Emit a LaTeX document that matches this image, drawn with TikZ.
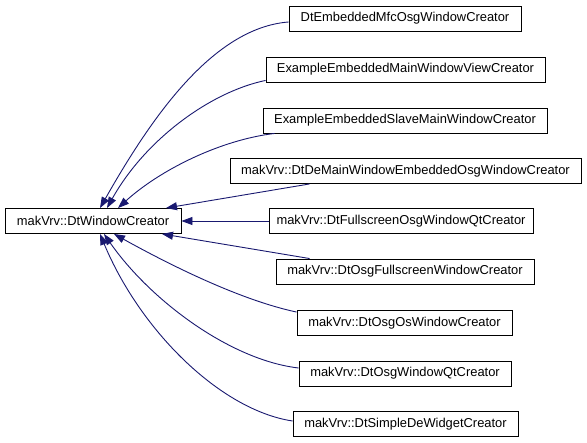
\documentclass[tikz,border=0pt]{standalone}
\usepackage{fontspec}
\setmainfont{Liberation Sans}
\usetikzlibrary{arrows.meta}
\definecolor{edgeblue}{HTML}{191970}
\begin{document}
\begin{tikzpicture}[x=1pt,y=-1pt,
  cls/.style={draw=black, line width=0.9pt, fill=white, minimum height=25pt, inner sep=0pt, font=\fontsize{12.9}{14}\selectfont},
  inh/.style={draw=edgeblue, line width=0.9pt, -{Triangle[length=11pt,width=8pt]}}]
\useasboundingbox (0,0) rectangle (587,443);
\node[cls, minimum width=176pt] (L) at (93,221) {makVrv::DtWindowCreator};
\node[cls, minimum width=232pt] (n1) at (405,18.5) {DtEmbeddedMfcOsgWindowCreator};
\node[cls, minimum width=279pt] (n2) at (405.5,69.5) {ExampleEmbeddedMainWindowViewCreator};
\node[cls, minimum width=284pt] (n3) at (405,120.5) {ExampleEmbeddedSlaveMainWindowCreator};
\node[cls, minimum width=351pt] (n4) at (405.5,171) {makVrv::DtDeMainWindowEmbeddedOsgWindowCreator};
\node[cls, minimum width=264pt] (n5) at (401,221) {makVrv::DtFullscreenOsgWindowQtCreator};
\node[cls, minimum width=258pt] (n6) at (405,271.5) {makVrv::DtOsgFullscreenWindowCreator};
\node[cls, minimum width=215pt] (n7) at (404.5,323) {makVrv::DtOsgOsWindowCreator};
\node[cls, minimum width=212pt] (n8) at (405,373.5) {makVrv::DtOsgWindowQtCreator};
\node[cls, minimum width=225pt] (n9) at (405.5,424) {makVrv::DtSimpleDeWidgetCreator};

\draw[inh] ([yshift=-3.5pt]n1.west) .. controls (212,28) and (150,120) .. ([xshift=7pt]L.north);
\draw[inh] ([yshift=2pt]n2.south west) .. controls (210,92) and (145,140) .. ([xshift=14pt]L.north);
\draw[inh] ([xshift=12pt]n3.south west) .. controls (220,140) and (160,170) .. ([xshift=25pt]L.north);
\draw[inh] ([xshift=80pt]n4.south west) -- ([xshift=73pt]L.north);
\draw[inh] (n5.west) -- (L.east);
\draw[inh] ([xshift=34pt]n6.north west) -- ([xshift=69pt]L.south);
\draw[inh] ([yshift=-2pt]n7.north west) .. controls (240,300) and (170,265) .. ([xshift=21pt]L.south);
\draw[inh] ([yshift=5.5pt]n8.west) .. controls (230,360) and (150,300) .. ([xshift=11pt]L.south);
\draw[inh] ([yshift=3pt]n9.west) .. controls (220,410) and (140,330) .. ([xshift=7pt]L.south);
\end{tikzpicture}
\end{document}
